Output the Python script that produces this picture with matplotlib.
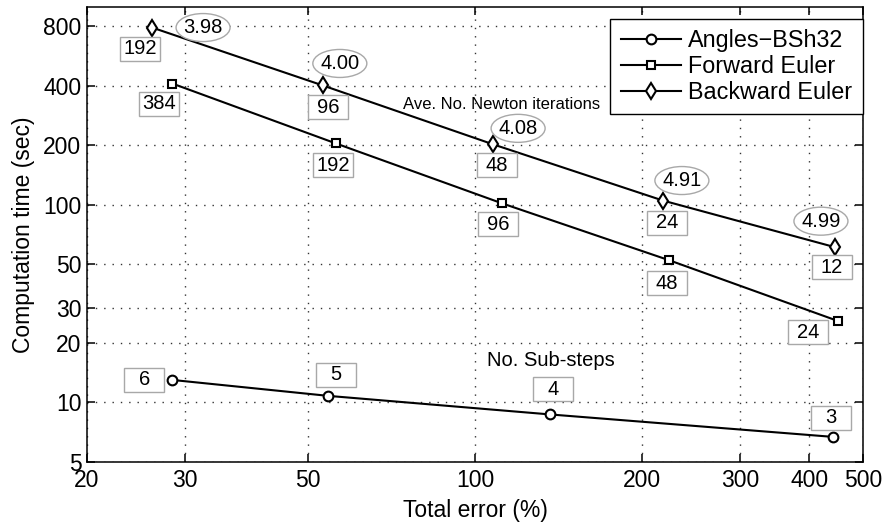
import matplotlib
matplotlib.use("Agg")
import matplotlib.pyplot as plt
from matplotlib.ticker import FixedLocator, FixedFormatter, NullLocator
from matplotlib.patches import Rectangle, Ellipse
from matplotlib.transforms import IdentityTransform

plt.rcParams['font.family'] = ['Liberation Sans', 'DejaVu Sans']

# ---- data ----
angles_err = [28.5, 54.4, 136.5, 441]
angles_time = [13.0, 10.8, 8.7, 6.7]
angles_substeps = ["6", "5", "4", "3"]

fe_err = [28.5, 56.2, 111.9, 223.7, 451]
fe_time = [410, 204, 101.6, 52.4, 25.8]
fe_steps = ["384", "192", "96", "48", "24"]

be_err = [26.2, 53.2, 107.8, 218, 445]
be_time = [787, 401, 202, 105, 61]
be_steps = ["192", "96", "48", "24", "12"]
be_newton = ["3.98", "4.00", "4.08", "4.91", "4.99"]

xticks = [20, 30, 50, 100, 200, 300, 400, 500]
yticks = [5, 10, 20, 30, 50, 100, 200, 400, 800]

# ---- label offsets (pixels, y up) ----
be_box_off = [(-12, -21), (5, -22), (4, -21), (4, -22), (-3, -20)]
be_ell_off = [(51, 0), (17, 22), (25, 16), (19, 20), (-14, 26)]
fe_box_off = [(-13, -20), (-3, -22), (-4, -21), (-2, -23), (-30, -11)]
an_box_off = [(-28, 0), (8, 21), (3, 25), (-2, 19)]

fig = plt.figure(figsize=(8.82, 5.25), dpi=100)
ax = fig.add_axes([0.0986, 0.12, 0.8799, 0.8667])
ax.set_xscale('log')
ax.set_yscale('log')
ax.set_xlim(20, 500)
ax.set_ylim(5, 1000)

lw = 1.5
ax.plot(angles_err, angles_time, '-o', color='black', lw=lw, ms=7,
        mfc='white', mec='black', mew=1.5, label='Angles\u2212BSh32', zorder=3)
ax.plot(fe_err, fe_time, '-s', color='black', lw=lw, ms=6,
        mfc='white', mec='black', mew=1.5, label='Forward Euler', zorder=3)
ax.plot(be_err, be_time, '-d', color='black', lw=lw, ms=8.5,
        mfc='white', mec='black', mew=1.5, label='Backward Euler', zorder=3)

edge = '#a8a8a8'


def label(x, y, s, off, kind):
    px, py = ax.transData.transform((x, y))
    cx, cy = px + off[0], py + off[1]
    if kind == 'box':
        patch = Rectangle((cx - 20, cy - 12), 40, 24, transform=IdentityTransform(),
                          fc='white', ec=edge, lw=1.0, zorder=4, clip_on=False)
    else:
        patch = Ellipse((cx, cy), 54, 28, transform=IdentityTransform(),
                        fc='white', ec=edge, lw=1.0, zorder=4, clip_on=False)
    ax.add_artist(patch)
    ax.text(cx, cy, s, transform=IdentityTransform(), ha='center', va='center',
            fontsize=14.5, zorder=5)


for x, y, s, o in zip(be_err, be_time, be_steps, be_box_off):
    label(x, y, s, o, 'box')
for x, y, s, o in zip(be_err, be_time, be_newton, be_ell_off):
    label(x, y, s, o, 'ell')
for x, y, s, o in zip(fe_err, fe_time, fe_steps, fe_box_off):
    label(x, y, s, o, 'box')
for x, y, s, o in zip(angles_err, angles_time, angles_substeps, an_box_off):
    label(x, y, s, o, 'box')

ax.text(0.407, 0.786, 'Ave. No. Newton iterations', transform=ax.transAxes,
        ha='left', va='center', fontsize=12, zorder=2)
ax.text(0.515, 0.222, 'No. Sub-steps', transform=ax.transAxes,
        ha='left', va='center', fontsize=14.5, zorder=2)

ax.xaxis.set_major_locator(FixedLocator(xticks))
ax.xaxis.set_major_formatter(FixedFormatter([str(v) for v in xticks]))
ax.yaxis.set_major_locator(FixedLocator(yticks))
ax.yaxis.set_major_formatter(FixedFormatter([str(v) for v in yticks]))
ax.xaxis.set_minor_locator(NullLocator())
ax.yaxis.set_minor_locator(NullLocator())
ax.tick_params(which='major', direction='in', length=6, width=1.1,
               top=True, right=True, labelsize=16.5, color='black')
ax.tick_params(axis='y', pad=4)
ax.tick_params(axis='x', pad=5)

ax.grid(True, which='major', linestyle=(0, (1, 5)), color='#333333', lw=1.0)
ax.set_axisbelow(True)
for sp in ax.spines.values():
    sp.set_linewidth(1.1)
    sp.set_color('black')

ax.set_xlabel('Total error (%)', fontsize=16.5, labelpad=5)
ax.set_ylabel('Computation time (sec)', fontsize=16.5, labelpad=6)

leg = ax.legend(loc='upper right', bbox_to_anchor=(1.0, 0.974), fontsize=16.8,
                fancybox=False, framealpha=1, edgecolor='black',
                handlelength=2.6, handletextpad=0.3, labelspacing=0.12,
                borderpad=0.45, borderaxespad=0.0)
leg.get_frame().set_linewidth(1.0)
leg.set_zorder(6)

fig.savefig('out.png', dpi=100)
